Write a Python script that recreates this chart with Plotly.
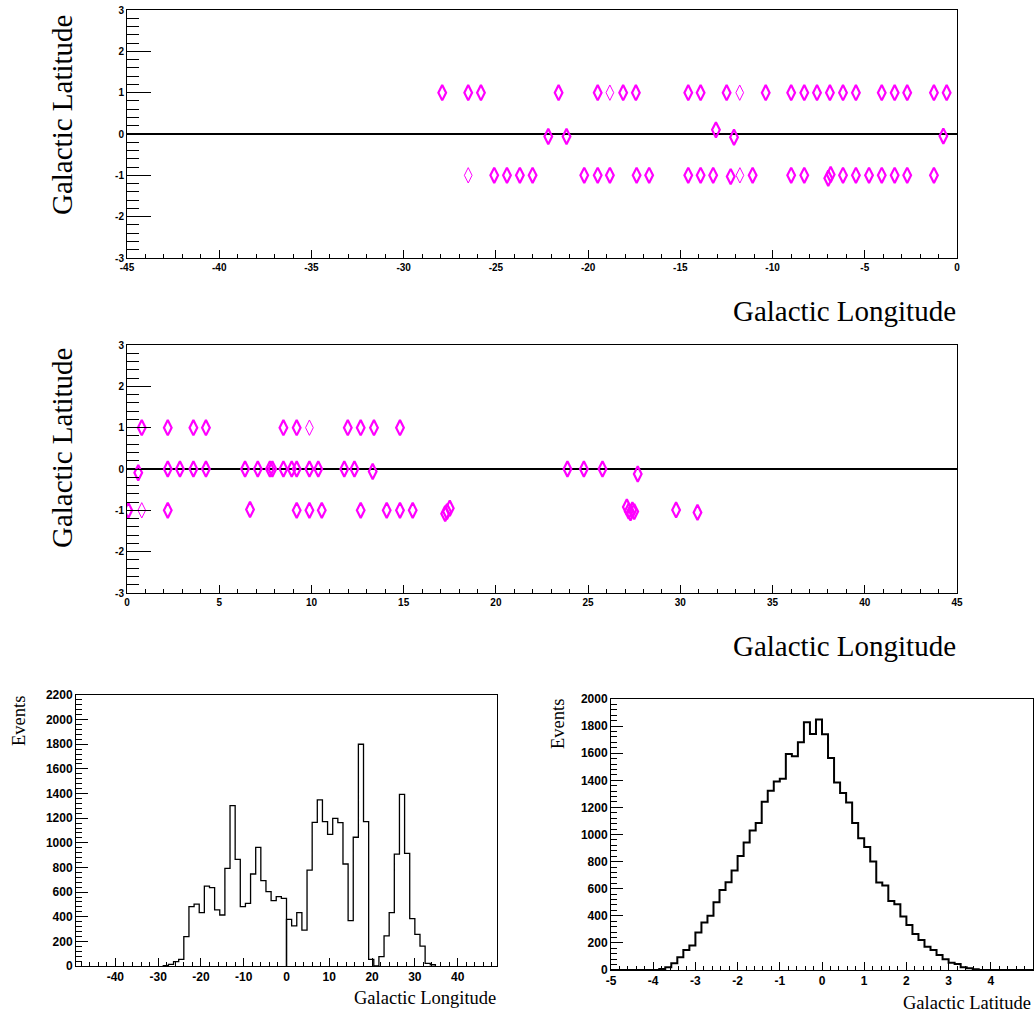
import numpy as np
import plotly.graph_objects as go

# ---------------- data ----------------
# Panel 1 (longitude -45..0)
p1_thick_lon = [-27.91, -26.50, -25.81, -21.60, -19.48, -18.10, -17.41, -14.57, -13.90, -12.49, -10.37,
                -8.99, -8.28, -7.59, -6.89, -6.18, -5.48, -4.08, -3.38, -2.70, -1.25, -0.56,
                -22.16, -21.17, -13.07, -12.09, -0.74,
                -25.09, -24.40, -23.70, -23.01, -20.21, -19.48, -18.82, -17.37, -16.69, -14.57, -13.90,
                -13.22, -12.27, -11.08, -8.99, -8.28, -6.98, -6.85, -6.18, -5.48, -4.77, -4.08, -3.38,
                -2.70, -1.25]
p1_thick_lat = [1.0] * 22 + [-0.06, -0.06, 0.10, -0.08, -0.05] + \
               [-1.0, -1.0, -1.0, -1.0, -1.0, -1.0, -1.0, -1.0, -1.0, -1.0, -1.0,
                -1.0, -1.03, -1.0, -1.0, -1.0, -1.07, -0.98, -1.0, -1.0, -1.0, -1.0, -1.0,
                -1.0, -1.0]
p1_thin_lon = [-18.82, -11.78, -26.50, -11.77]
p1_thin_lat = [1.0, 1.0, -1.0, -1.0]

# Panel 2 (longitude 0..45)
p2_thick_lon = [0.80, 2.21, 3.60, 4.28, 8.48, 9.20, 11.97, 12.67, 13.39, 14.80,
                0.61, 2.21, 2.87, 3.60, 4.28, 6.40, 7.09, 7.75, 7.88, 8.48, 8.93, 9.20, 9.89, 10.37,
                11.78, 12.33, 13.32, 23.88, 24.77, 25.78, 27.69,
                0.07, 2.21, 6.67, 9.20, 9.89, 10.56, 12.67, 14.08, 14.80, 15.49, 17.25, 17.35, 17.50,
                27.10, 27.20, 27.30, 27.40, 27.50, 29.77, 30.93]
p2_thick_lat = [1.0] * 10 + \
               [-0.09, 0.0, 0.0, 0.0, 0.0, 0.0, 0.0, 0.0, 0.0, 0.0, 0.0, 0.0, 0.0, 0.0,
                0.0, 0.0, -0.06, 0.0, 0.0, 0.0, -0.12] + \
               [-1.0, -1.0, -0.98, -1.0, -1.0, -1.0, -1.0, -1.0, -1.0, -1.0, -1.08, -1.03, -0.95,
                -0.92, -1.02, -1.06, -0.99, -1.03, -0.99, -1.05]
p2_thin_lon = [9.89, 0.80]
p2_thin_lat = [1.0, -1.0]

# Longitude histogram (bin width 1.2)
lon_bin_width = 1.2
lon_neg_start = -28.8
lon_neg_counts = [3, 14, 35, 54, 238, 482, 503, 433, 649, 636, 455, 414, 793, 1302, 866, 482,
                  509, 747, 963, 693, 603, 530, 563, 549]
lon_pos_start = 0.0
lon_pos_counts = [379, 325, 433, 292, 779, 1166, 1348, 1172, 1069, 1199, 1164, 828, 368, 1045,
                  1800, 1172, 54, 0, 76, 244, 433, 909, 1394, 915, 384, 257, 162, 22, 10]

# Latitude histogram (70 bins from -5 to 5)
lat_bin_start = -5.0
lat_bin_width = 10.0 / 70
lat_counts = [0, 0, 0, 0, 0, 0, 0, 0, 8, 20, 49, 94, 148, 180, 276, 350, 401, 500, 591, 648,
              734, 842, 941, 1030, 1084, 1241, 1323, 1392, 1412, 1594, 1577, 1680, 1828, 1742,
              1848, 1740, 1564, 1384, 1306, 1237, 1084, 973, 907, 800, 645, 623, 510, 485, 394,
              333, 266, 222, 172, 148, 111, 79, 54, 44, 20, 12, 5, 0, 0, 0, 0, 0, 0, 0, 0, 0]

# Tick labels (plain hyphen minus, as in the original)
p1_xticks = [-45, -40, -35, -30, -25, -20, -15, -10, -5, 0]
p2_xticks = [0, 5, 10, 15, 20, 25, 30, 35, 40, 45]
lat_yticks = [-3, -2, -1, 0, 1, 2, 3]
lon_hist_xticks = [-40, -30, -20, -10, 0, 10, 20, 30, 40]
lon_hist_yticks = [0, 200, 400, 600, 800, 1000, 1200, 1400, 1600, 1800, 2000, 2200]
lat_hist_xticks = [-5, -4, -3, -2, -1, 0, 1, 2, 3, 4, 5]
lat_hist_yticks = [0, 200, 400, 600, 800, 1000, 1200, 1400, 1600, 1800, 2000]

# ---------------- figure ----------------
W, H = 1034, 1015
OFF = 0
MAG = "#ff00ff"


def px_x(p):
    return (p - OFF) / W


def px_y(p):
    return 1 - (p - OFF) / H


def step_xy(start, width, counts):
    edges = start + width * np.arange(len(counts) + 1)
    xs = [edges[0]] + list(edges[:-1]) + [edges[-1]]
    ys = [0] + list(counts) + [0]
    return xs, ys


fig = go.Figure()

msize = 11
for lon, lat, lw, xa, ya in [
    (p1_thick_lon, p1_thick_lat, 2.2, "x", "y"),
    (p1_thin_lon, p1_thin_lat, 1.0, "x", "y"),
    (p2_thick_lon, p2_thick_lat, 2.2, "x2", "y2"),
    (p2_thin_lon, p2_thin_lat, 1.0, "x2", "y2"),
]:
    fig.add_trace(go.Scatter(
        x=lon, y=lat, mode="markers", xaxis=xa, yaxis=ya,
        marker=dict(symbol="diamond-tall-open", size=msize, color=MAG,
                    line=dict(color=MAG, width=lw)),
        showlegend=False, hoverinfo="skip"))

for start, counts in [(lon_neg_start, lon_neg_counts), (lon_pos_start, lon_pos_counts)]:
    xs, ys = step_xy(start, lon_bin_width, counts)
    fig.add_trace(go.Scatter(x=xs, y=ys, mode="lines", line_shape="hv", xaxis="x3", yaxis="y3",
                             line=dict(color="black", width=1.3), showlegend=False))

xs, ys = step_xy(lat_bin_start, lat_bin_width, lat_counts)
fig.add_trace(go.Scatter(x=xs, y=ys, mode="lines", line_shape="hv", xaxis="x4", yaxis="y4",
                         line=dict(color="black", width=2), showlegend=False))

tick_font_small = dict(family="Liberation Sans", size=10, color="black", weight="bold")
tick_font_big = dict(family="Liberation Sans", size=12, color="black", weight="bold")


def common(domain, anchor, rng, ticks, mdtick, tlen, mlen, font):
    return dict(domain=domain, anchor=anchor, range=rng,
                tickmode="array", tickvals=ticks, ticktext=[str(t) for t in ticks],
                ticks="inside", ticklen=tlen, tickwidth=1, tickcolor="black",
                minor=dict(ticks="inside", ticklen=mlen, tick0=0, dtick=mdtick,
                           tickcolor="black", tickwidth=1, showgrid=False),
                showline=True, linecolor="black", linewidth=1, mirror=True, automargin=False,
                showgrid=False, tickfont=font, fixedrange=True)


def xax(*a):
    d = common(*a)
    d["zeroline"] = False
    return d


def yax(*a, zl=False):
    d = common(*a)
    d["zeroline"] = zl
    if zl:
        d["zerolinecolor"] = "black"
        d["zerolinewidth"] = 1.6
    return d


dx12 = [px_x(127), px_x(957)]
fig.update_layout(
    width=W, height=H, margin=dict(l=0, r=0, t=0, b=0, pad=0, autoexpand=False),
    paper_bgcolor="white", plot_bgcolor="white",
    xaxis=xax(dx12, "y", [-45, 0], p1_xticks, 1, 8, 4, tick_font_small),
    yaxis=yax([px_y(258), px_y(10)], "x", [-3, 3], lat_yticks, 0.2, 24, 12, tick_font_small, zl=True),
    xaxis2=xax(dx12, "y2", [0, 45], p2_xticks, 1, 8, 4, tick_font_small),
    yaxis2=yax([px_y(593), px_y(345)], "x2", [-3, 3], lat_yticks, 0.2, 24, 12, tick_font_small, zl=True),
    xaxis3=xax([px_x(76), px_x(497)], "y3", [-49.2, 49.2], lon_hist_xticks, 2, 8, 4, tick_font_big),
    yaxis3=yax([px_y(966), px_y(695)], "x3", [0, 2200], lon_hist_yticks, 40, 12, 6, tick_font_big),
    xaxis4=xax([px_x(611), px_x(1033)], "y4", [-5, 5], lat_hist_xticks, 0.2, 8, 4, tick_font_big),
    yaxis4=yax([px_y(970), px_y(699)], "x4", [0, 2000], lat_hist_yticks, 40, 12, 6, tick_font_big),
)

serif_big = dict(family="Liberation Serif", size=29, color="black")
serif_small = dict(family="Liberation Serif", size=18.5, color="black")
annots = [
    dict(text="Galactic Latitude", x=px_x(62), y=px_y(115), textangle=-90,
         xanchor="center", yanchor="middle", font=serif_big),
    dict(text="Galactic Longitude", x=px_x(958), y=px_y(311),
         xanchor="right", yanchor="middle", font=serif_big),
    dict(text="Galactic Latitude", x=px_x(62), y=px_y(448), textangle=-90,
         xanchor="center", yanchor="middle", font=serif_big),
    dict(text="Galactic Longitude", x=px_x(958), y=px_y(646),
         xanchor="right", yanchor="middle", font=serif_big),
    dict(text="Events", x=px_x(19), y=px_y(721), textangle=-90,
         xanchor="center", yanchor="middle", font=serif_small),
    dict(text="Galactic Longitude", x=px_x(498), y=px_y(998),
         xanchor="right", yanchor="middle", font=serif_small),
    dict(text="Events", x=px_x(558), y=px_y(724), textangle=-90,
         xanchor="center", yanchor="middle", font=serif_small),
    dict(text="Galactic Latitude", x=px_x(1033), y=px_y(1003),
         xanchor="right", yanchor="middle", font=serif_small),
]
for a in annots:
    a.update(xref="paper", yref="paper", showarrow=False)
fig.update_layout(annotations=annots)

fig.write_html("out.html", config={"displayModeBar": False},
               post_script="document.body.style.margin='0';")
